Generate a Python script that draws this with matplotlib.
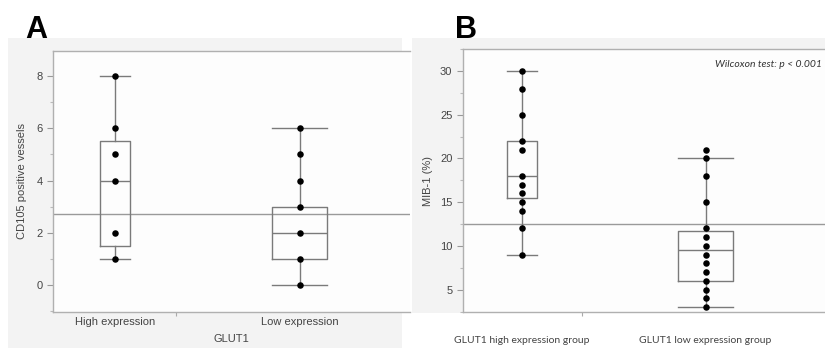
import matplotlib
matplotlib.use("Agg")
import matplotlib.pyplot as plt
from matplotlib.patches import Rectangle
from matplotlib.ticker import MultipleLocator

# --- data ---
groups_a = ["High expression", "Low expression"]
points_a_high = [1, 2, 4, 5, 6, 8]
points_a_low = [0, 1, 2, 3, 4, 5, 6]
box_a_q1 = [1.5, 1.0]
box_a_med = [4.0, 2.0]
box_a_q3 = [5.5, 3.0]
box_a_lo = [1.0, 0.0]
box_a_hi = [8.0, 6.0]
mean_a = 2.72

groups_b = ["GLUT1 high expression group", "GLUT1 low expression group"]
points_b_high = [9, 12, 14, 15, 16, 17, 18, 21, 22, 25, 28, 30]
points_b_low = [3, 4, 5, 6, 7, 8, 9, 10, 11, 12, 15, 18, 20, 21]
box_b_q1 = [15.5, 6.0]
box_b_med = [18.0, 9.5]
box_b_q3 = [22.0, 11.7]
box_b_lo = [9.0, 3.0]
box_b_hi = [30.0, 20.0]
mean_b = 12.47

box_widths = [0.163, 0.294]

grey_line = "#7a7a7a"
text_col = "#444444"

fig = plt.figure(figsize=(8.25, 3.51), dpi=100)

# light grey panel backgrounds
fig.patches.append(Rectangle((0.0097, 0.0085), 0.4776, 0.883, transform=fig.transFigure,
                             facecolor="#f3f3f3", edgecolor="none", zorder=-10))
fig.patches.append(Rectangle((0.4994, 0.108), 0.5006, 0.783, transform=fig.transFigure,
                             facecolor="#f3f3f3", edgecolor="none", zorder=-10))

ax_a = fig.add_axes([0.0642, 0.111, 0.433, 0.744])
ax_b = fig.add_axes([0.561, 0.111, 0.439, 0.749])


def draw_panel(ax, q1, med, q3, lo, hi, pts, mean):
    stats = []
    for i in range(2):
        stats.append({"q1": q1[i], "med": med[i], "q3": q3[i],
                      "whislo": lo[i], "whishi": hi[i], "fliers": []})
    ax.bxp(stats, positions=[0, 1], widths=box_widths, showfliers=False,
           boxprops=dict(color=grey_line, linewidth=1.0),
           medianprops=dict(color=grey_line, linewidth=1.0),
           whiskerprops=dict(color=grey_line, linewidth=1.0),
           capprops=dict(color=grey_line, linewidth=1.0),
           capwidths=box_widths, manage_ticks=False)
    for i, p in enumerate(pts):
        ax.scatter([i] * len(p), p, s=22, color="black", zorder=5, linewidths=0)
    ax.axhline(mean, color="#9a9a9a", linewidth=1.0, zorder=1)
    ax.set_facecolor("#fdfdfd")
    for side in ["left", "top", "bottom"]:
        ax.spines[side].set_color("#b0b0b0")
        ax.spines[side].set_linewidth(1.0)
    ax.spines["right"].set_visible(False)
    ax.tick_params(axis="y", colors="#999999", labelcolor=text_col, labelsize=8,
                   length=4, width=0.8)
    ax.tick_params(axis="y", which="minor", colors="#bbbbbb", length=2.5, width=0.8)
    ax.tick_params(axis="x", which="major", length=0, labelcolor=text_col, labelsize=8)
    ax.set_xticks([0.33], minor=True)
    ax.tick_params(axis="x", which="minor", colors="#aaaaaa", length=3, width=0.8)


# panel A
draw_panel(ax_a, box_a_q1, box_a_med, box_a_q3, box_a_lo, box_a_hi,
           [points_a_high, points_a_low], mean_a)
ax_a.set_xlim(-0.337, 1.6)
ax_a.set_ylim(-1.03, 8.96)
ax_a.yaxis.set_major_locator(MultipleLocator(2))
ax_a.yaxis.set_minor_locator(MultipleLocator(1))
ax_a.set_xticks([0, 1])
ax_a.set_xticklabels(groups_a, family="Liberation Sans")
for t in ax_a.get_yticklabels():
    t.set_family("Liberation Sans")
ax_a.set_ylabel("CD105 positive vessels", fontsize=8, color=text_col,
                family="Liberation Sans", labelpad=7)
ax_a.set_xlabel("GLUT1", fontsize=8, color=text_col, family="Liberation Sans", labelpad=5)

# panel B
draw_panel(ax_b, box_b_q1, box_b_med, box_b_q3, box_b_lo, box_b_hi,
           [points_b_high, points_b_low], mean_b)
ax_b.set_xlim(-0.32, 1.65)
ax_b.set_ylim(2.45, 32.5)
ax_b.yaxis.set_major_locator(MultipleLocator(5))
ax_b.yaxis.set_minor_locator(MultipleLocator(2.5))
ax_b.set_xticks([0, 1])
ax_b.set_xticklabels(groups_b, family="Lato", fontsize=7.5)
ax_b.tick_params(axis="x", which="major", pad=17)
for t in ax_b.get_yticklabels():
    t.set_family("Liberation Sans")
ax_b.set_ylabel("MIB-1 (%)", fontsize=8, color=text_col, family="Liberation Sans", labelpad=5)
ax_b.text(0.99, 0.94, "Wilcoxon test: p < 0.001", transform=ax_b.transAxes,
          ha="right", va="center", fontsize=7.5, style="italic", family="Lato",
          color="#333333")

# panel letters
fig.text(25 / 825, 1 - 38 / 351, "A", fontsize=22, fontweight="bold",
         family="Liberation Sans", ha="left", va="baseline")
fig.text(455 / 825, 1 - 38 / 351, "B", fontsize=22, fontweight="bold",
         family="Liberation Sans", ha="left", va="baseline")

fig.savefig("out.png", dpi=100)
